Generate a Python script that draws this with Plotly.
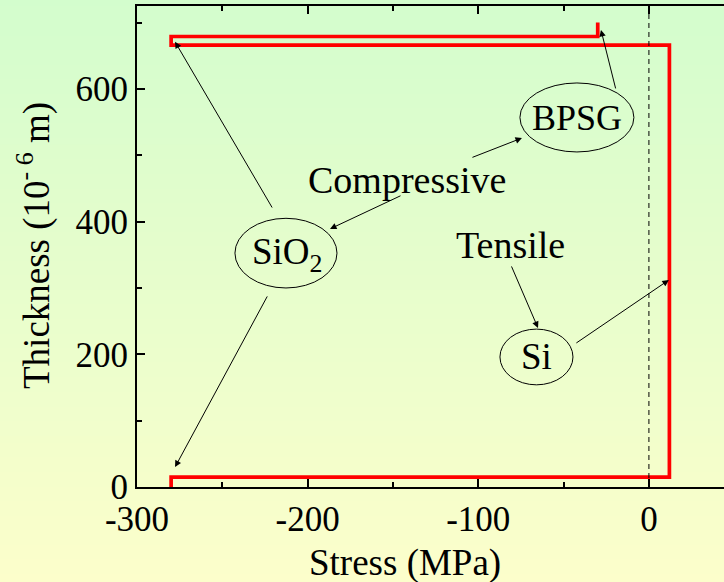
import plotly.graph_objects as go

# Stress profile through the wafer stack (stress in MPa, thickness in 1e-6 m)
stress = [-280, -280, 12, 12, -280, -280, -30, -30]
thickness = [0, 15, 15, 666, 666, 679, 679, 700]

x_range = [-300, 44]
y_range = [0, 725]
x_ticks = [-300, -200, -100, 0]
x_tick_text = ["-300", "-200", "-100", "0"]
y_ticks = [0, 200, 400, 600]
y_tick_text = ["0", "200", "400", "600"]

# Labelled ellipses: (label, x0, x1, y0, y1)
ellipses = [
    ("BPSG", -75.6, -8.8, 505, 609),
    ("SiO<sub>2</sub>", -242.6, -182.8, 300, 405),
    ("Si", -87.3, -44.5, 154, 238),
]
ellipse_text_pos = [(-42.2, 556), (-212.0, 350), (-65.6, 196)]
ellipse_text_size = [36, 37, 37]

# Free labels
free_labels = ["Compressive", "Tensile"]
free_label_pos = [(-141.8, 463), (-80.9, 365)]

# Arrows: (tail_x, tail_y, head_x, head_y)
arrows = [
    (-19.3, 598.5, -28.1, 689),
    (-104.3, 496, -74.4, 526),
    (-144.7, 440, -186.9, 389),
    (-220.3, 419, -277.7, 671),
    (-223.2, 289.5, -277.7, 30),
    (-80.9, 334.7, -65.0, 239.7),
    (-43.4, 215.6, 11.7, 312),
]

FONT = "Liberation Serif"
W, H = 724, 582
M_L, M_R, M_T, M_B = 137, 0, 6, 95
plot_w = W - M_L - M_R
plot_h = H - M_T - M_B


def px_to_paper(px, py):
    return (px - M_L) / plot_w, (H - M_B - py) / plot_h


fig = go.Figure()

fig.add_trace(go.Scatter(
    x=stress, y=thickness, mode="lines",
    line=dict(color="#ff0000", width=3.7),
    hoverinfo="skip", showlegend=False,
))

# Dashed zero-stress reference
fig.add_shape(type="line", xref="x", yref="paper", x0=0, x1=0, y0=0, y1=1,
              line=dict(color="black", width=1, dash="5px,4px"))

# Vertical background gradient from pale green (top) to pale yellow (bottom)
top_rgb = (211, 253, 205)
bot_rgb = (252, 254, 203)
n_bands = 80
y_top = 1 + M_T / plot_h
y_bot = -M_B / plot_h
for i in range(n_bands):
    f = (i + 0.5) / n_bands
    c = tuple(round(top_rgb[k] + (bot_rgb[k] - top_rgb[k]) * f) for k in range(3))
    ya = y_top - (y_top - y_bot) * i / n_bands
    yb = y_top - (y_top - y_bot) * (i + 1) / n_bands
    fig.add_shape(type="rect", xref="paper", yref="paper",
                  x0=-0.5, x1=1.5, y0=yb - 0.002, y1=ya + 0.002,
                  fillcolor="rgb(%d,%d,%d)" % c, line=dict(width=0),
                  layer="below")

for (label, x0, x1, y0, y1), (tx, ty), sz in zip(ellipses, ellipse_text_pos,
                                                  ellipse_text_size):
    fig.add_shape(type="circle", xref="x", yref="y", x0=x0, x1=x1, y0=y0, y1=y1,
                  line=dict(color="black", width=1))
    fig.add_annotation(x=tx, y=ty, xref="x", yref="y", text=label,
                       showarrow=False, font=dict(family=FONT, size=sz, color="black"))

for label, (tx, ty) in zip(free_labels, free_label_pos):
    fig.add_annotation(x=tx, y=ty, xref="x", yref="y", text=label,
                       showarrow=False, font=dict(family=FONT, size=38, color="black"))

for tx, ty, hx, hy in arrows:
    fig.add_annotation(x=hx, y=hy, ax=tx, ay=ty, xref="x", yref="y",
                       axref="x", ayref="y", text="", showarrow=True,
                       arrowhead=2, arrowsize=1.3, arrowwidth=1, arrowcolor="black")

# Axis titles
xt_x, xt_y = px_to_paper(405, 563)
fig.add_annotation(x=xt_x, y=xt_y, xref="paper", yref="paper", text="Stress (MPa)",
                   xanchor="center", yanchor="middle", showarrow=False,
                   font=dict(family=FONT, size=37, color="black"))
yt_x, yt_y = px_to_paper(34, 246)
fig.add_annotation(x=yt_x, y=yt_y, xref="paper", yref="paper",
                   text="Thickness (10<sup>- 6</sup> m)", textangle=-90,
                   xanchor="center", yanchor="middle", showarrow=False,
                   font=dict(family=FONT, size=37, color="black"))

axis_common = dict(
    showline=True, linecolor="black", linewidth=2,
    ticks="inside", ticklen=8, tickwidth=2, tickcolor="black",
    showgrid=False, zeroline=False,
    tickfont=dict(family=FONT, size=35, color="black"),
)

fig.update_xaxes(range=x_range, tickvals=x_ticks, ticktext=x_tick_text,
                 mirror="ticks",
                 minor=dict(ticks="inside", ticklen=5, tickwidth=2, dtick=50,
                            tickcolor="black", showgrid=False),
                 **axis_common)
fig.update_yaxes(range=y_range, tickvals=y_ticks, ticktext=y_tick_text,
                 mirror=False,
                 minor=dict(ticks="inside", ticklen=5, tickwidth=2, dtick=100,
                            tickcolor="black", showgrid=False),
                 **axis_common)

fig.update_layout(
    width=W, height=H,
    margin=dict(l=M_L, r=M_R, t=M_T, b=M_B),
    paper_bgcolor="rgba(0,0,0,0)",
    plot_bgcolor="rgba(0,0,0,0)",
    showlegend=False,
)

fig.write_html("out.html")
